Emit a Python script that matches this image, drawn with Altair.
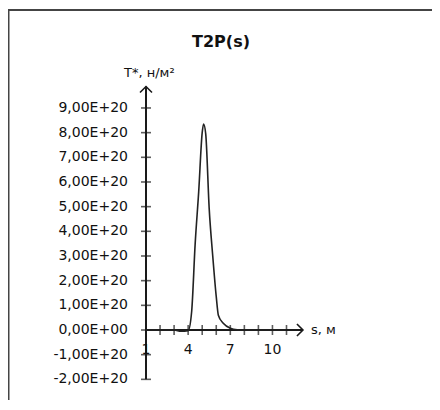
import altair as alt
import pandas as pd

# ---- data ----
s_vals = [1, 2, 3, 3.5, 4, 4.25, 4.5, 4.75, 5, 5.1, 5.25, 5.5, 5.75, 6, 6.15, 6.5, 7, 7.5, 8, 9, 10, 11]
t_vals = [0, 0, 0, -0.05e20, -0.03e20, 0.75e20, 3.5e20, 5.6e20, 8.0e20, 8.35e20, 7.95e20, 4.9e20,
          3.0e20, 1.35e20, 0.6e20, 0.27e20, 0.07e20, 0.01e20, 0, 0, 0, 0]

y_tick_values = [9e20, 8e20, 7e20, 6e20, 5e20, 4e20, 3e20, 2e20, 1e20, 0, -1e20, -2e20]
y_tick_labels = ["9,00E+20", "8,00E+20", "7,00E+20", "6,00E+20", "5,00E+20", "4,00E+20",
                 "3,00E+20", "2,00E+20", "1,00E+20", "0,00E+00", "-1,00E+20", "-2,00E+20"]
x_tick_values = [1, 2, 3, 4, 5, 6, 7, 8, 9, 10, 11]
x_label_values = [1, 4, 7, 10]
x_label_texts = ["1", "4", "7", "10"]

title_text = "T2P(s)"
y_title = "T*, н/м²"
x_title = "s, м"

# axis extents (data units)
x_axis_start, x_axis_end = 1, 12.17
y_axis_start, y_axis_end = -2e20, 9.87e20

# ---- layout ----
W, H = 424, 390
PX_PER_S = 14.05
PX_PER_V = 24.67 / 1e20
X0_PX = 138          # pixel of s = 1 inside the view
Y0_PX = 320          # pixel of T = 0 inside the view
x_dom = [1 - X0_PX / PX_PER_S, 1 + (W - X0_PX) / PX_PER_S]
y_dom = [(Y0_PX - H) / PX_PER_V, Y0_PX / PX_PER_V]

xs = alt.Scale(domain=x_dom, nice=False, zero=False)
ys = alt.Scale(domain=y_dom, nice=False, zero=False)
AX = "#1a1a1a"
FONT = "DejaVu Sans"


def X(field="s"):
    return alt.X(f"{field}:Q", scale=xs, axis=None)


def Y(field="v"):
    return alt.Y(f"{field}:Q", scale=ys, axis=None)


one = pd.DataFrame({"a": [0]})

border_top = alt.Chart(one).mark_rule(color="#444", strokeWidth=2).encode(
    x=alt.value(0), x2=alt.value(W), y=alt.value(0))
border_left = alt.Chart(one).mark_rule(color="#444", strokeWidth=2).encode(
    x=alt.value(0.5), y=alt.value(0), y2=alt.value(H))

y_axis = alt.Chart(pd.DataFrame({"s": [x_axis_start], "v": [y_axis_start], "v2": [y_axis_end]})).mark_rule(
    color=AX, strokeWidth=2).encode(x=X(), y=Y(), y2="v2:Q")
x_axis = alt.Chart(pd.DataFrame({"s": [x_axis_start], "s2": [x_axis_end], "v": [0]})).mark_rule(
    color=AX, strokeWidth=2).encode(x=X(), x2="s2:Q", y=Y())

y_ticks = alt.Chart(pd.DataFrame({"s": [x_axis_start] * len(y_tick_values), "v": y_tick_values})).mark_tick(
    orient="horizontal", size=10, thickness=1.6, color=AX).encode(x=X(), y=Y())
x_ticks = alt.Chart(pd.DataFrame({"s": x_tick_values, "v": [0] * len(x_tick_values)})).mark_tick(
    orient="vertical", size=10, thickness=1.6, color=AX).encode(x=X(), y=Y())

arrow_up = alt.Chart(pd.DataFrame({"s": [x_axis_start], "v": [y_axis_end]})).mark_point(
    shape="M-1,1L0,0L1,1", size=144, filled=False, stroke=AX, strokeWidth=1.6, opacity=1).encode(x=X(), y=Y())
arrow_right = alt.Chart(pd.DataFrame({"s": [x_axis_end], "v": [0]})).mark_point(
    shape="M-1,-1L0,0L-1,1", size=144, filled=False, stroke=AX, strokeWidth=1.6, opacity=1).encode(x=X(), y=Y())

curve = alt.Chart(pd.DataFrame({"s": s_vals, "v": t_vals})).mark_line(
    interpolate="monotone", color="#222", strokeWidth=1.6).encode(x=X(), y=Y())

y_labels = alt.Chart(pd.DataFrame({"s": [x_axis_start] * len(y_tick_values), "v": y_tick_values,
                                   "t": y_tick_labels})).mark_text(
    align="right", baseline="middle", dx=-18, font=FONT, fontSize=14, color="#111").encode(
    x=X(), y=Y(), text="t:N")
x_labels = alt.Chart(pd.DataFrame({"s": x_label_values, "v": [0] * len(x_label_values),
                                   "t": x_label_texts})).mark_text(
    align="center", baseline="middle", dy=20, font=FONT, fontSize=14, color="#111").encode(
    x=X(), y=Y(), text="t:N")

y_title_l = alt.Chart(pd.DataFrame({"s": [x_axis_start], "v": [y_axis_end], "t": [y_title]})).mark_text(
    align="left", baseline="middle", dx=-22, dy=-14, font=FONT, fontSize=13, color="#111").encode(
    x=X(), y=Y(), text="t:N")
x_title_l = alt.Chart(pd.DataFrame({"s": [x_axis_end], "v": [0], "t": [x_title]})).mark_text(
    align="left", baseline="middle", dx=8, font=FONT, fontSize=13, color="#111").encode(
    x=X(), y=Y(), text="t:N")
title_l = alt.Chart(pd.DataFrame({"s": [6.34], "v": [11.69e20], "t": [title_text]})).mark_text(
    align="center", baseline="middle", font=FONT, fontSize=16, fontWeight="bold", color="#111").encode(
    x=X(), y=Y(), text="t:N")

chart = alt.layer(
    border_top, border_left, y_axis, x_axis, y_ticks, x_ticks, curve, arrow_up, arrow_right,
    y_labels, x_labels, y_title_l, x_title_l, title_l
).properties(
    width=W, height=H,
    autosize=alt.AutoSizeParams(type="none"),
    padding={"left": 0, "top": 2, "right": 0, "bottom": 0},
).configure_view(stroke=None).configure(background="white")

chart.save("out.html", embed_options={"renderer": "svg", "actions": False})
